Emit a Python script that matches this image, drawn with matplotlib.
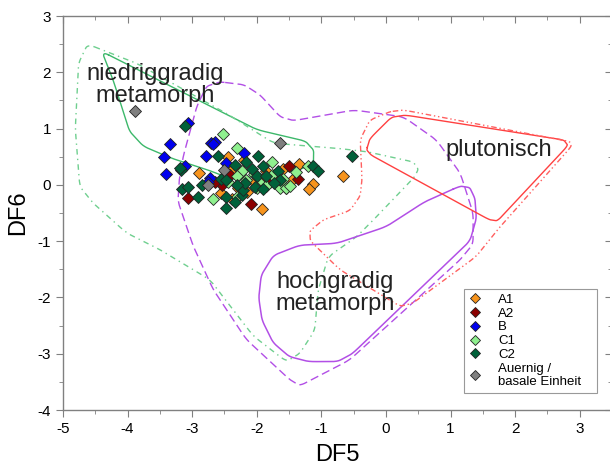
import numpy as np
import matplotlib
matplotlib.use("Agg")
import matplotlib.pyplot as plt
from matplotlib.ticker import MultipleLocator
from matplotlib.lines import Line2D

plt.rcParams['font.family'] = ['Liberation Sans', 'DejaVu Sans']
plt.rcParams['axes.unicode_minus'] = False

# sample groups (DF5, DF6)
a1_x = [-2.89, -1.92, -1.35, -1.13, -1.19, -0.66, -2.44, -2.29, -1.74, -1.46,
        -2.39, -2.20, -1.60, -2.05, -1.85, -2.55, -1.55, -2.15, -1.95, -2.35]
a1_y = [0.21, -0.43, 0.37, 0.01, -0.08, 0.15, 0.49, -0.06, 0.18, 0.09,
        -0.25, 0.45, 0.28, 0.05, 0.25, -0.15, -0.05, -0.12, 0.10, 0.30]

a2_x = [-3.07, -2.09, -1.50, -1.36, -2.41, -2.54, -2.65, -1.80]
a2_y = [-0.23, -0.34, 0.33, 0.10, 0.18, 0.00, 0.05, 0.05]

b_x = [-3.06, -3.34, -3.43, -3.41, -2.71, -2.65, -2.78, -2.47, -2.20, -3.11,
       -2.72, -2.68, -2.75]
b_y = [1.10, 0.72, 0.49, 0.19, 0.74, 0.77, 0.52, 0.38, 0.56, 0.33,
       0.12, 0.72, 0.05]

c1_x = [-2.52, -2.31, -1.77, -1.40, -1.20, -2.68, -2.23, -2.31, -2.16, -1.95,
        -1.64, -1.54, -1.49, -1.77, -2.31, -2.05, -1.85, -2.45, -1.60, -2.00]
c1_y = [0.91, 0.65, 0.40, 0.22, 0.33, -0.25, 0.25, 0.15, 0.09, 0.03,
        -0.06, -0.06, -0.02, 0.18, -0.22, 0.20, -0.02, 0.05, 0.10, -0.05]

c2_x = [-3.11, -3.17, -2.60, -1.98, -0.52, -2.34, -2.16, -2.08, -1.90, -2.00,
        -1.67, -1.64, -1.74, -1.13, -1.05, -2.56, -2.47, -3.16, -3.06, -2.91,
        -2.48, -2.34, -2.48, -2.23, -2.21, -2.03, -1.90, -2.18, -3.19, -2.85,
        -1.85, -2.30]
c2_y = [1.04, 0.27, 0.52, 0.52, 0.52, 0.36, 0.40, 0.28, 0.33, 0.16,
        0.24, 0.09, 0.04, 0.33, 0.24, 0.10, 0.09, -0.07, -0.03, -0.22,
        -0.22, -0.31, -0.41, -0.18, -0.09, -0.04, -0.08, 0.03, 0.30, 0.00,
        0.15, 0.00]

au_x = [-3.88, -1.64, -2.50, -2.75]
au_y = [1.32, 0.74, 0.26, 0.00]

# field boundaries
nied_x = [-4.40, -3.50, -2.00, -1.25, -1.12, -1.12, -1.30, -2.36, -2.72, -3.29,
          -3.75, -3.97, -4.08, -4.22]
nied_y = [2.37, 1.85, 0.98, 0.78, 0.62, 0.42, 0.28, 0.09, 0.25, 0.46,
          0.68, 0.95, 1.35, 1.85]

nied_out_x = [-4.62, -3.86, -2.47, -1.74, -0.76, -0.30, 0.42, 0.50, 0.45, -0.09, -0.45,
              -0.89, -1.05, -1.10, -1.33, -1.54, -2.05, -2.72, -3.50, -4.01, -4.53,
              -4.74, -4.81, -4.76]
nied_out_y = [2.50, 2.16, 1.27, 0.74, 0.65, 0.59, 0.41, 0.28, 0.15, -0.50, -0.92,
              -1.27, -1.87, -2.58, -2.99, -3.14, -2.69, -1.69, -1.15, -0.86, -0.33,
              -0.03, 0.98, 2.16]

hoch_x = [1.15, 0.60, 0.01, -0.76, -1.33, -1.74, -1.93, -1.97, -1.92, -1.75, -1.50,
          -1.20, -0.75, -0.52, 1.30, 1.40, 1.38, 1.30]
hoch_y = [-0.02, -0.30, -0.74, -1.04, -1.07, -1.25, -1.60, -2.00, -2.40, -2.80, -3.05,
          -3.14, -3.14, -3.00, -1.00, -0.60, -0.25, -0.05]

hoch_out_x = [-2.57, -2.20, -1.95, -1.64, -1.43, -0.50, 0.27, 0.78, 1.15, 1.35, 1.35,
              1.15, -0.56, -1.33, -1.49, -2.16, -2.67, -2.98, -3.22, -3.20, -3.14,
              -2.93, -2.78]
hoch_out_y = [1.83, 1.78, 1.60, 1.21, 1.14, 1.33, 1.21, 0.80, 0.21, -0.50, -1.05,
              -1.33, -3.11, -3.57, -3.46, -2.75, -1.87, -1.10, -0.30, 0.10, 0.50,
              1.39, 1.75]

plut_x = [-0.30, -0.25, 0.08, 0.30, 2.75, 2.82, 1.73, 1.60, -0.22]
plut_y = [0.62, 0.82, 1.20, 1.24, 0.80, 0.70, -0.64, -0.62, 0.52]

plut_out_x = [0.06, 0.27, 2.85, 2.87, 1.77, 1.40, 0.42, 0.22, -0.71, -1.17, -1.18,
              -0.97, -0.56, -0.40, -0.37, -0.40, -0.25]
plut_out_y = [1.30, 1.33, 0.77, 0.68, -0.74, -1.27, -2.10, -2.16, -1.51, -1.00, -0.82,
              -0.62, -0.46, -0.20, 0.09, 0.80, 1.15]


def smooth_closed(xs, ys, d=0.25, n=5):
    # keep straight edges, round only the corners
    p = np.column_stack([xs, ys])
    pts = []
    for i in range(len(p)):
        a, b = p[i], p[(i + 1) % len(p)]
        t = min(d / np.hypot(*(b - a)), 0.45)
        pts += [a, a + t * (b - a), b - t * (b - a)]
    p = np.array(pts)
    for _ in range(n):
        q = np.roll(p, -1, axis=0)
        p = np.stack([0.75 * p + 0.25 * q, 0.25 * p + 0.75 * q], axis=1).reshape(-1, 2)
    p = np.vstack([p, p[:1]])
    return p[:, 0], p[:, 1]


fig = plt.figure(figsize=(6.1, 4.7), dpi=100)
ax = fig.add_axes([63 / 610, 60 / 470, 549 / 610, 394 / 470])

green = '#3cb86a'
purple = '#b24fe6'
red = '#ff4040'

fields = [
    (nied_x, nied_y, dict(color=green, lw=1.0, ls='-')),
    (nied_out_x, nied_out_y, dict(color='#6fcf8f', lw=1.0, ls=(0, (4, 3, 1, 3)))),
    (hoch_x, hoch_y, dict(color=purple, lw=1.1, ls='-')),
    (hoch_out_x, hoch_out_y, dict(color=purple, lw=1.0, ls=(0, (6, 3)))),
    (plut_x, plut_y, dict(color=red, lw=1.0, ls='-')),
    (plut_out_x, plut_out_y, dict(color='#ff6060', lw=1.0, ls=(0, (4, 2, 1, 2, 1, 2)))),
]
for fx, fy, st in fields:
    sx, sy = smooth_closed(fx, fy)
    ax.plot(sx, sy, **st)

groups = [
    ('A1', a1_x, a1_y, '#f7941d'),
    ('A2', a2_x, a2_y, '#8b0000'),
    ('B', b_x, b_y, '#0000ee'),
    ('C1', c1_x, c1_y, '#8ff08f'),
    ('C2', c2_x, c2_y, '#00613a'),
    ('Auernig /\nbasale Einheit   ', au_x, au_y, '#7f7f7f'),
]
handles = []
for name, gx, gy, col in groups:
    ax.plot(gx, gy, ls='none', marker='D', ms=6.5, mfc=col, mec='#222222', mew=0.6)
    handles.append(Line2D([], [], ls='none', marker='D', ms=5, mfc=col,
                          mec='#222222', mew=0.6, label=name))

txt = '#222222'
ax.text(-3.57, 1.78, 'niedriggradig\nmetamorph', ha='center', va='center',
        fontsize=17, color=txt, linespacing=1.0)
ax.text(1.75, 0.62, 'plutonisch', ha='center', va='center', fontsize=17, color=txt)
ax.text(-0.78, -1.92, 'hochgradig\nmetamorph', ha='center', va='center',
        fontsize=17, color=txt, linespacing=1.0)

leg = ax.legend(handles=handles, loc='lower right', bbox_to_anchor=(0.972, 0.043),
                fontsize=9.5, frameon=True, fancybox=False, borderpad=0.35,
                handletextpad=1.3, labelspacing=0.12, handlelength=0.9,
                borderaxespad=0)
leg.get_frame().set_edgecolor('#808080')
leg.get_frame().set_linewidth(0.8)

ax.set_xlim(-5, 3.5)
ax.set_ylim(-4, 3)
ax.xaxis.set_major_locator(MultipleLocator(1))
ax.xaxis.set_minor_locator(MultipleLocator(0.5))
ax.yaxis.set_major_locator(MultipleLocator(1))
ax.yaxis.set_minor_locator(MultipleLocator(0.5))

for s in ['left', 'bottom', 'top']:
    ax.spines[s].set_color('#808080')
    ax.spines[s].set_linewidth(1.0)
ax.spines['right'].set_visible(False)

ax.tick_params(which='both', direction='out', color='#808080', labelsize=11,
               labelcolor='black')
ax.tick_params(which='major', length=5)
ax.tick_params(which='minor', length=3)

top = ax.secondary_xaxis('top')
top.xaxis.set_major_locator(MultipleLocator(1))
top.xaxis.set_minor_locator(MultipleLocator(0.5))
top.tick_params(which='both', direction='in', color='#808080', labeltop=False)
top.tick_params(which='major', length=5)
top.tick_params(which='minor', length=3)
top.spines['top'].set_visible(False)

right = ax.secondary_yaxis('right')
right.yaxis.set_major_locator(MultipleLocator(1))
right.yaxis.set_minor_locator(MultipleLocator(0.5))
right.tick_params(which='both', direction='in', color='#808080', labelright=False)
right.tick_params(which='major', length=5)
right.tick_params(which='minor', length=3)
right.spines['right'].set_visible(False)

ax.set_xlabel('DF5', fontsize=17, labelpad=6)
ax.set_ylabel('DF6', fontsize=17, labelpad=6)

fig.savefig('out.png', dpi=100)
